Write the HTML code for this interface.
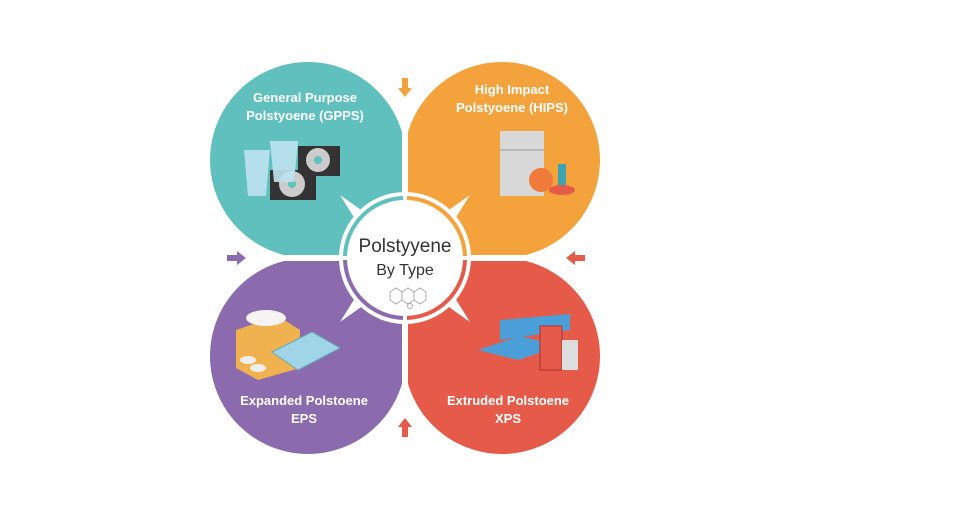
<!DOCTYPE html>
<html><head><meta charset="utf-8"><style>
html,body{margin:0;padding:0;background:#fff;}
svg{display:block;font-family:"Liberation Sans",sans-serif;}
</style></head><body>
<svg width="960" height="520" viewBox="0 0 960 520">
<defs>
<clipPath id="q1"><rect x="200" y="50" width="202" height="205"/></clipPath>
<clipPath id="q2"><rect x="408" y="50" width="202" height="205"/></clipPath>
<clipPath id="q3"><rect x="200" y="261" width="202" height="200"/></clipPath>
<clipPath id="q4"><rect x="408" y="261" width="202" height="200"/></clipPath>
</defs>
<g clip-path="url(#q1)" fill="#5fc0bd"><circle cx="308" cy="160" r="98"/><rect x="308" y="160" width="100" height="100"/></g>
<g clip-path="url(#q2)" fill="#f4a23c"><circle cx="502" cy="160" r="98"/><rect x="400" y="160" width="102" height="100"/></g>
<g clip-path="url(#q3)" fill="#8b6bad"><circle cx="308" cy="356" r="98"/><rect x="308" y="255" width="100" height="101"/></g>
<g clip-path="url(#q4)" fill="#e55a48"><circle cx="502" cy="356" r="98"/><rect x="400" y="255" width="102" height="101"/></g>
<!-- star -->
<polygon fill="#fff" points="340,195 378,222 405,190 432,222 470,195 445,235 472,258 445,282 470,322 432,295 405,326 378,295 340,322 365,282 338,258 365,235"/>
<circle cx="405" cy="258" r="66" fill="#fff"/>
<path d="M345,256 A60,60 0 0 1 403,198" stroke="#5fc0bd" stroke-width="4" fill="none"/>
<path d="M407,198 A60,60 0 0 1 465,256" stroke="#f4a23c" stroke-width="4" fill="none"/>
<path d="M465,260 A60,60 0 0 1 407,318" stroke="#e55a48" stroke-width="4" fill="none"/>
<path d="M403,318 A60,60 0 0 1 345,260" stroke="#8b6bad" stroke-width="4" fill="none"/>
<text x="405" y="252" text-anchor="middle" font-size="19" fill="#333">Polstyyene</text>
<text x="405" y="275" text-anchor="middle" font-size="16" fill="#333">By Type</text>
<g stroke="#aaa" fill="none" stroke-width="1">
<polygon points="390,292 396,288 402,292 402,300 396,304 390,300"/>
<polygon points="402,292 408,288 414,292 414,300 408,304 402,300"/>
<polygon points="414,292 420,288 426,292 426,300 420,304 414,300"/>
<circle cx="410" cy="306" r="2.5"/>
</g>
<!-- arrows -->
<polygon fill="#f4a23c" points="402,78 408,78 408,88 412,88 405,97 398,88 402,88"/>
<polygon fill="#8b6bad" points="227,255 237,255 237,251 246,258 237,265 237,261 227,261"/>
<polygon fill="#e55a48" points="585,255 575,255 575,251 566,258 575,265 575,261 585,261"/>
<polygon fill="#e55a48" points="402,437 408,437 408,427 412,427 405,418 398,427 402,427"/>
<!-- labels -->
<g fill="#fff" font-weight="bold" font-size="13" text-anchor="middle">
<text x="305" y="102">General Purpose</text>
<text x="305" y="120">Polstyoene (GPPS)</text>
<text x="512" y="94">High Impact</text>
<text x="512" y="112">Polstyoene (HIPS)</text>
<text x="304" y="405">Expanded Polstoene</text>
<text x="304" y="423">EPS</text>
<text x="508" y="405">Extruded Polstoene</text>
<text x="508" y="423">XPS</text>
</g>
<!-- icons GPPS -->
<rect x="298" y="146" width="42" height="30" fill="#333"/>
<rect x="270" y="170" width="46" height="30" fill="#333"/>
<circle cx="318" cy="160" r="12" fill="#ccc"/><circle cx="318" cy="160" r="4" fill="#5fc0bd"/>
<circle cx="292" cy="184" r="13" fill="#ccc"/><circle cx="292" cy="184" r="4" fill="#5fc0bd"/>
<polygon points="244,150 270,150 266,196 248,196" fill="#bfe3f0" opacity="0.9"/>
<polygon points="270,141 298,141 294,182 274,182" fill="#bfe3f0" opacity="0.9"/>
<!-- HIPS -->
<rect x="500" y="131" width="44" height="65" fill="#d8d8d8"/>
<line x1="500" y1="150" x2="544" y2="150" stroke="#999"/>
<circle cx="541" cy="180" r="12" fill="#f07a3a"/>
<rect x="558" y="164" width="8" height="22" fill="#3ba4b0"/>
<ellipse cx="562" cy="190" rx="13" ry="5" fill="#e55a48"/>
<!-- EPS -->
<polygon points="236,330 278,316 300,330 300,368 258,380 236,368" fill="#f0b24e"/>
<ellipse cx="266" cy="318" rx="20" ry="8" fill="#f4f4f4"/>
<polygon points="272,352 312,332 340,348 298,370" fill="#9fd5e6" stroke="#6ab" stroke-width="1"/>
<ellipse cx="248" cy="360" rx="8" ry="4" fill="#eee"/>
<ellipse cx="258" cy="368" rx="8" ry="4" fill="#eee"/>
<!-- XPS -->
<polygon points="500,320 570,314 570,330 500,340" fill="#4a9fd8"/>
<polygon points="478,350 520,336 560,346 518,360" fill="#4a9fd8"/>
<rect x="540" y="326" width="22" height="44" fill="#e55a48" stroke="#a33"/>
<rect x="562" y="340" width="16" height="30" fill="#ddd"/>
</svg>
</body></html>
